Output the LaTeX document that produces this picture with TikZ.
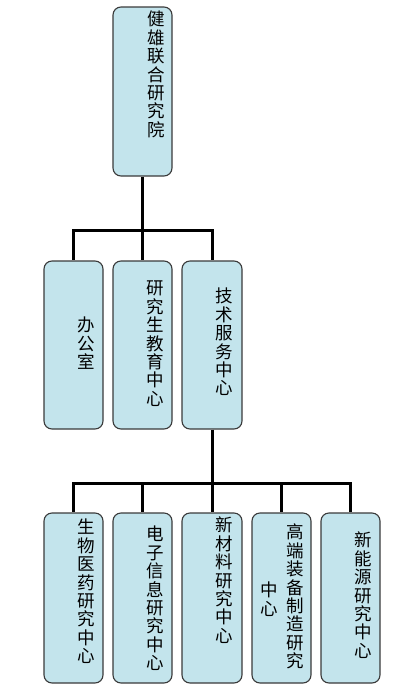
\documentclass[tikz,border=0pt]{standalone}
\usepackage{fontspec}
\setmainfont{Noto Sans CJK SC}
\definecolor{boxfill}{HTML}{C3E4EC}
\definecolor{boxline}{HTML}{3A3A3A}
\begin{document}
\begin{tikzpicture}[x=1pt,y=-1pt,
  orgbox/.style={draw=boxline,line width=1.1pt,fill=boxfill,rounded corners=8pt},
  vtext/.style={anchor=north,inner sep=0pt,align=center,font=\fontsize{17.5}{18.4}\selectfont},
  link/.style={line width=3pt,black}]
\useasboundingbox (0,0) rectangle (411,691);
% boxes
\node[orgbox,minimum width=59pt,minimum height=169pt] (root) at (142.5,91.5) {};
\node[orgbox,minimum width=59pt,minimum height=168pt] (off) at (73.5,345) {};
\node[orgbox,minimum width=59pt,minimum height=168pt] (edu) at (142.5,345) {};
\node[orgbox,minimum width=60pt,minimum height=168pt] (tech) at (212,345) {};
\node[orgbox,minimum width=59pt,minimum height=170pt] (bio) at (73.5,598) {};
\node[orgbox,minimum width=59pt,minimum height=170pt] (ele) at (142.5,598) {};
\node[orgbox,minimum width=60pt,minimum height=170pt] (mat) at (212,598) {};
\node[orgbox,minimum width=59pt,minimum height=170pt] (equ) at (281.5,598) {};
\node[orgbox,minimum width=59pt,minimum height=170pt] (ene) at (350.5,598) {};
% texts
\node[vtext] (t0) at (156,11) {健\\雄\\联\\合\\研\\究\\院};
\node[vtext] (t1) at (86,317) {办\\公\\室};
\node[vtext] (t2) at (155,281) {研\\究\\生\\教\\育\\中\\心};
\node[vtext] (t3) at (224,288) {技\\术\\服\\务\\中\\心};
\node[vtext] (t4) at (86,519) {生\\物\\医\\药\\研\\究\\中\\心};
\node[vtext] (t5) at (155,526) {电\\子\\信\\息\\研\\究\\中\\心};
\node[vtext] (t6) at (224,517) {新\\材\\料\\研\\究\\中\\心};
\node[vtext] (t7) at (295,524) {高\\端\\装\\备\\制\\造\\研\\究};
\node[vtext] (t7b) at (269,582) {中\\心};
\node[vtext] (t8) at (363,532) {新\\能\\源\\研\\究\\中\\心};
% connectors
\coordinate (j1) at (142.5,230);
\coordinate (j2) at (212,483);
\draw[link] (root.south) -- (j1);
\draw[link] (j1) -| (off.north);
\draw[link] (j1) -- (edu.north);
\draw[link] (j1) -| (tech.north);
\draw[link] (tech.south) -- (j2);
\draw[link] (j2) -| (bio.north);
\draw[link] (j2) -| (ele.north);
\draw[link] (j2) -- (mat.north);
\draw[link] (j2) -| (equ.north);
\draw[link] (j2) -| (ene.north);
\end{tikzpicture}
\end{document}
